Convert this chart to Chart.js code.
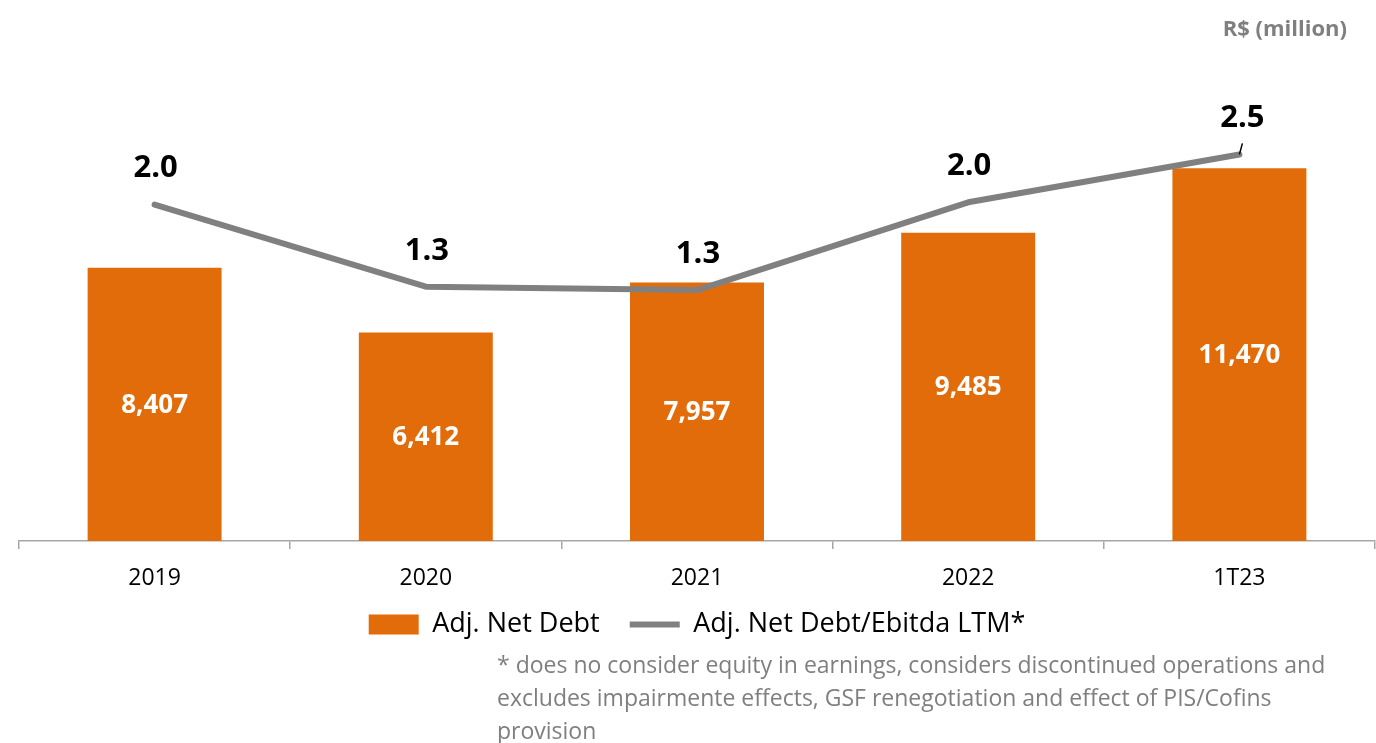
<!DOCTYPE html>
<html>
<head>
<meta charset="utf-8">
<script src="https://cdn.jsdelivr.net/npm/chart.js@4.4.1/dist/chart.umd.min.js"></script>
<style>
  html, body { margin: 0; padding: 0; background: #ffffff; }
  #wrap { position: relative; width: 1376px; height: 743px; overflow: hidden; }
  #unit { position: absolute; right: 29px; top: 12px; font: bold 22px "Open Sans", sans-serif; line-height: 30px; color: #7f7f7f; }
  #note { position: absolute; left: 497px; top: 648px; font: 23px "Open Sans", sans-serif; line-height: 33px; color: #7f7f7f; white-space: nowrap; }
</style>
</head>
<body>
<div id="wrap">
  <canvas id="c"></canvas>
  <div id="unit">R$ (million)</div>
  <div id="note">* does no consider equity in earnings, considers discontinued operations and<br>excludes impairmente effects, GSF renegotiation and effect of PIS/Cofins<br>provision</div>
</div>
<script>
const categories = ['2019', '2020', '2021', '2022', '1T23'];
const netDebt = [8407, 6412, 7957, 9485, 11470];
const leverage = [2.02, 1.30, 1.27, 2.04, 2.46];
const seriesNames = ['Adj. Net Debt', 'Adj. Net Debt/Ebitda LTM*'];

const ORANGE = '#E36C0A';
const GREY = '#808080';

const labelPlugin = {
  id: 'valueLabels',
  afterLayout(chart) {
    // let the category labels draw below the (shortened) axis box
    const x = chart.scales.x;
    x.bottom = x.top + 70;
  },
  afterDatasetsDraw(chart) {
    const ctx = chart.ctx;
    ctx.save();
    const barMeta = chart.getDatasetMeta(0);
    ctx.font = 'bold 26px "Open Sans", sans-serif';
    ctx.fillStyle = '#ffffff';
    ctx.textAlign = 'center';
    ctx.textBaseline = 'middle';
    barMeta.data.forEach((el, i) => {
      const v = chart.data.datasets[0].data[i];
      ctx.fillText(v.toLocaleString('en-US'), el.x, (el.y + el.base) / 2 + 1);
    });
    const lineMeta = chart.getDatasetMeta(1);
    ctx.font = 'bold 31px "Open Sans", sans-serif';
    ctx.fillStyle = '#000000';
    lineMeta.data.forEach((el, i) => {
      const v = chart.data.datasets[1].data[i];
      const last = i === lineMeta.data.length - 1;
      const dx = last ? 3 : 1;
      ctx.fillText(v.toFixed(1), el.x + dx, el.y - 36);
      if (last) {
        ctx.strokeStyle = '#000000';
        ctx.lineWidth = 1.5;
        ctx.beginPath();
        ctx.moveTo(el.x, el.y);
        ctx.lineTo(el.x + 3, el.y - 11);
        ctx.stroke();
      }
    });
    ctx.restore();
  }
};

new Chart(document.getElementById('c'), {
  type: 'bar',
  data: {
    labels: categories,
    datasets: [
      {
        type: 'bar',
        label: seriesNames[0],
        data: netDebt,
        backgroundColor: ORANGE,
        borderWidth: 0,
        yAxisID: 'y',
        order: 2,
        barPercentage: 0.494,
        categoryPercentage: 1.0,
        pointStyle: 'rect'
      },
      {
        type: 'line',
        label: seriesNames[1],
        data: leverage,
        borderColor: GREY,
        backgroundColor: GREY,
        borderWidth: 6,
        borderCapStyle: 'round',
        borderJoinStyle: 'round',
        pointRadius: 0,
        pointHoverRadius: 0,
        tension: 0,
        yAxisID: 'y1',
        order: 1,
        pointStyle: 'line'
      }
    ]
  },
  options: {
    responsive: true,
    maintainAspectRatio: false,
    animation: false,
    events: [],
    layout: { padding: { left: 19, right: 1, top: 86, bottom: 95 } },
    scales: {
      x: {
        offset: true,
        afterFit: (scale) => { scale.height = 40; },
        grid: { display: true, offset: true, drawOnChartArea: false, drawTicks: true, tickLength: 8, color: '#a6a6a6', lineWidth: 1.5 },
        border: { display: true, color: '#a6a6a6', width: 1.5 },
        ticks: { color: '#000000', font: { family: '"Open Sans", sans-serif', size: 23 }, padding: 16, maxRotation: 0 }
      },
      y: { display: false, min: 0, max: 14000 },
      y1: { display: false, position: 'right', min: -0.93, max: 3.06 }
    },
    plugins: {
      tooltip: { enabled: false },
      legend: {
        display: true,
        position: 'bottom',
        labels: {
          usePointStyle: true,
          pointStyleWidth: 50,
          boxHeight: 20,
          padding: 30,
          color: '#000000',
          font: { family: '"Open Sans", sans-serif', size: 27 },
          sort: (a, b) => a.datasetIndex - b.datasetIndex
        }
      }
    }
  },
  plugins: [labelPlugin]
});
</script>
</body>
</html>
